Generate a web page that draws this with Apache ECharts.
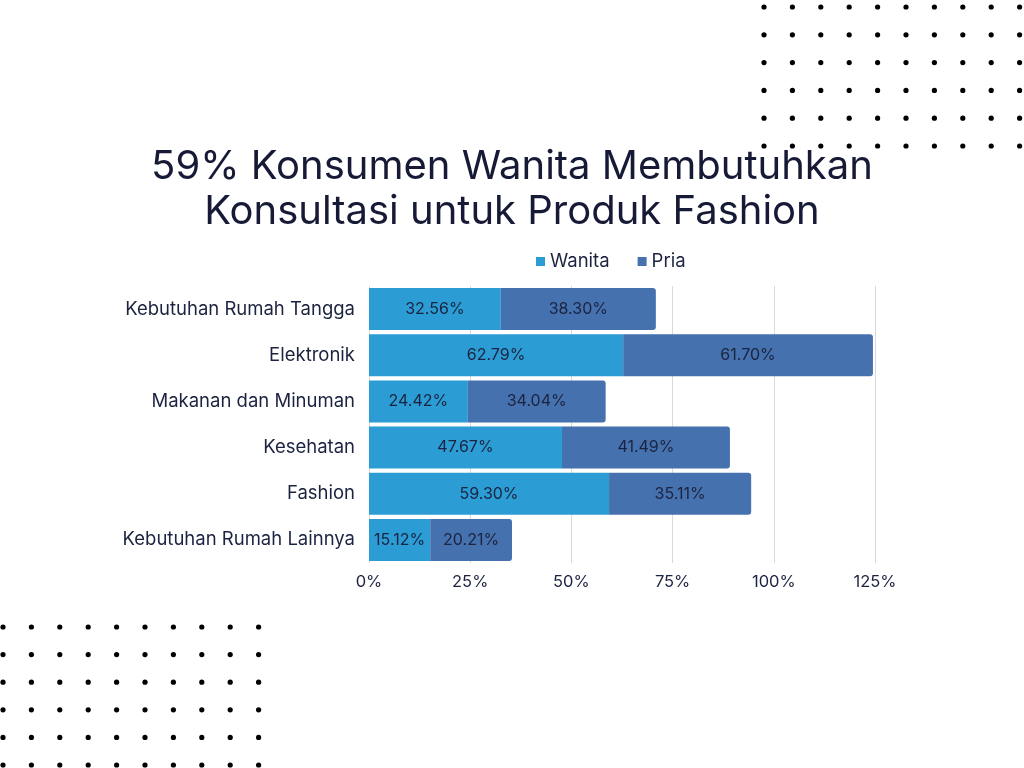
<!DOCTYPE html>
<html>
<head>
<meta charset="utf-8">
<script src="https://cdn.jsdelivr.net/npm/echarts@6/dist/echarts.min.js"></script>
<style>
html,body{margin:0;padding:0;background:#fff;}
#main{width:1024px;height:768px;}
</style>
</head>
<body>
<div id="main"></div>
<script>
const categories = ["Kebutuhan Rumah Tangga","Elektronik","Makanan dan Minuman","Kesehatan","Fashion","Kebutuhan Rumah Lainnya"];
const wanita = [32.56, 62.79, 24.42, 47.67, 59.30, 15.12];
const pria = [38.30, 61.70, 34.04, 41.49, 35.11, 20.21];
const seriesNames = ["Wanita","Pria"];
const xTicks = [0, 25, 50, 75, 100, 125];

const TEXT = '#1c2340';
const TITLE = '#161a36';
const FONT = 'Inter';

// decorative dot grids
const dots = [];
function dotGrid(x0, y0, dx, dy, cols, rows) {
  for (let r = 0; r < rows; r++) for (let c = 0; c < cols; c++) {
    dots.push({type:'circle', shape:{cx:x0 + c*dx, cy:y0 + r*dy, r:2.6}, style:{fill:'#000'}, z:100});
  }
}
dotGrid(764, 7, 28.4, 27.8, 10, 6);
dotGrid(3, 627, 28.4, 27.6, 10, 6);

const chart = echarts.init(document.getElementById('main'));
chart.setOption({
  backgroundColor:'#fff',
  animation:false,
  title:{
    text:'59% Konsumen Wanita Membutuhkan\nKonsultasi untuk Produk Fashion',
    left:'center', top:139,
    textStyle:{fontFamily:FONT, fontSize:40, fontWeight:400, color:TITLE, lineHeight:45}
  },
  legend:{
    data:seriesNames, top:252, left:536, itemWidth:9, itemHeight:9, itemGap:28,
    icon:'rect',
    textStyle:{fontFamily:FONT, fontSize:18.5, color:TEXT},
    padding:0
  },
  graphic: dots,
  grid:{left:369, right:149, top:286, bottom:205, containLabel:false},
  xAxis:{
    type:'value', min:0, max:125, interval:25,
    axisLabel:{formatter: v => v + '%', fontFamily:FONT, fontSize:16.5, color:TEXT, margin:11},
    splitLine:{lineStyle:{color:'#d9d9d9'}},
    axisLine:{show:false}, axisTick:{show:false}
  },
  yAxis:{
    type:'category', data:categories, inverse:true,
    axisLabel:{fontFamily:FONT, fontSize:18.5, color:TEXT, margin:14},
    axisLine:{show:false}, axisTick:{show:false}
  },
  series:[
    {name:seriesNames[0], type:'bar', stack:'a', data:wanita, barCategoryGap:'9%',
     itemStyle:{color:'#2b9cd4'},
     label:{show:true, position:'inside', formatter: p => p.value.toFixed(2)+'%', fontFamily:FONT, fontSize:16, color:TEXT}},
    {name:seriesNames[1], type:'bar', stack:'a', data:pria, barCategoryGap:'9%',
     itemStyle:{color:'#4571ae', borderRadius:[0,3,3,0]},
     label:{show:true, position:'inside', formatter: p => p.value.toFixed(2)+'%', fontFamily:FONT, fontSize:16, color:TEXT}}
  ]
});
</script>
</body>
</html>
